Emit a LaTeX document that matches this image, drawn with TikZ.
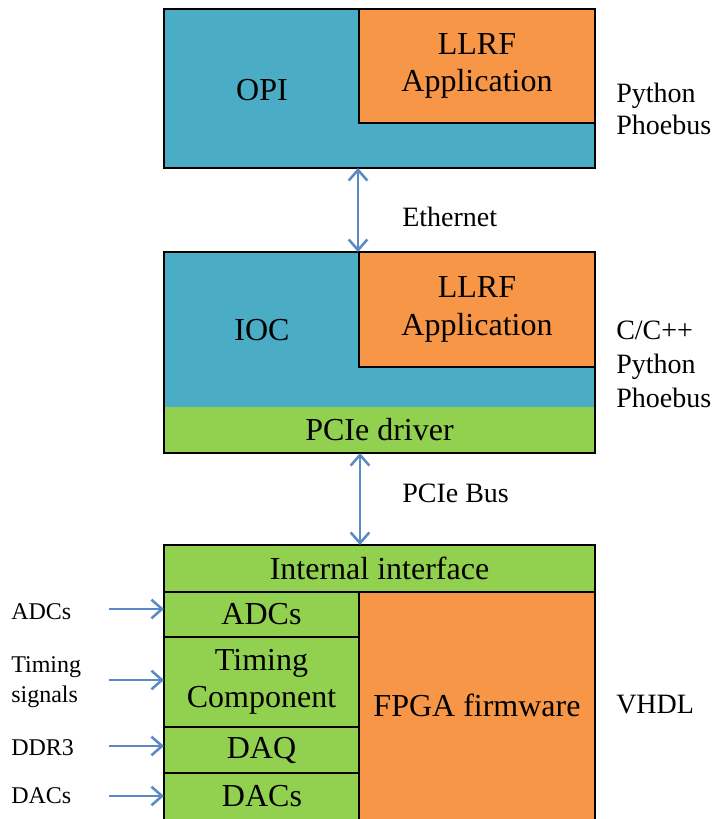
\documentclass[tikz,border=0pt]{standalone}
\usepackage{fontspec}
\setmainfont{Liberation Serif}
\usetikzlibrary{fit,arrows.meta}
\definecolor{tealfill}{HTML}{4BACC6}
\definecolor{orangefill}{HTML}{F79646}
\definecolor{greenfill}{HTML}{92D050}
\definecolor{linkblue}{HTML}{5A8AC6}
\newcommand\boxfont{\fontsize{24}{28}\selectfont}
\newcommand\sidefont{\fontsize{21}{25}\selectfont}
\newcommand\infont{\fontsize{18}{22.5}\selectfont}
\begin{document}
\begin{tikzpicture}[x=0.75pt,y=-0.75pt,
  area/.style={inner sep=0pt, outer sep=0pt, line width=0.9pt},
  boxed/.style={area, draw=black},
  boxtext/.style={font=\boxfont, align=center, inner sep=0pt},
  sidetext/.style={font=\sidefont, align=left, anchor=west, inner sep=0pt},
  intext/.style={font=\infont, align=left, anchor=west, inner sep=0pt},
  tip/.style={Straight Barb[length=8pt,width=14pt,line width=1.6pt]},
  link/.style={draw=linkblue, line width=1.9pt, {Straight Barb[length=8pt,width=14pt]}-{Straight Barb[length=8pt,width=14pt]}},
  feed/.style={draw=linkblue, line width=1.9pt, -{Straight Barb[length=8pt,width=14pt]}}]
\useasboundingbox (0,0) rectangle (718,819);

% operator interface
\node[boxed, fill=tealfill, fit={(164,9)(595,168)}] (opi) {};
\node[boxed, fill=orangefill, fit={(359,9)(595,123)}] (opiapp) {};
\node[boxtext] (opiapptext) at (opiapp.center) {LLRF\\Application};
\node[boxtext] (opitext) at (262,90) {OPI};
\node[sidetext, font=\fontsize{21}{24}\selectfont] (opilang) at (616,109) {Python\\Phoebus};

% IOC
\node[area, fill=tealfill, fit={(164,252)(595,407)}] (iocbg) {};
\node[area, fill=greenfill, fit={(164,407)(595,453)}] (driver) {};
\node[boxtext] (drivertext) at (driver.center) {PCIe driver};
\node[boxed, fit={(164,252)(595,453)}] (ioc) {};
\node[boxed, fill=orangefill, fit={(359,252)(595,367)}] (iocapp) {};
\node[boxtext] (iocapptext) at (iocapp.center) {LLRF\\Application};
\node[boxtext] (ioctext) at (262,330) {IOC};
\node[sidetext, font=\fontsize{21}{25.5}\selectfont] (ioclang) at (616,364) {C/C++\\Python\\Phoebus};

% FPGA firmware
\node[boxed, fill=greenfill, fit={(164,545)(595,592)}] (intf) {};
\node[boxtext] (intftext) at (intf.center) {Internal interface};
\node[boxed, fill=greenfill, fit={(164,592)(359,637)}] (adcs) {};
\node[boxtext] (adcstext) at (adcs.center) {ADCs};
\node[boxed, fill=greenfill, fit={(164,637)(359,727)}] (timing) {};
\node[boxtext] (timingtext) at (timing.center) {Timing\\Component};
\node[boxed, fill=greenfill, fit={(164,727)(359,773)}] (daq) {};
\node[boxtext] (daqtext) at (daq.center) {DAQ};
\node[boxed, fill=greenfill, fit={(164,773)(359,822)}] (dacs) {};
\node[boxtext] (dacstext) at (262,796) {DACs};
\node[boxed, fill=orangefill, fit={(359,592)(595,822)}] (fpga) {};
\node[boxtext] (fpgatext) at (477,705) {FPGA firmware};
\node[sidetext] (vhdl) at (616,705) {VHDL};

% links between the layers
\coordinate (ethtop) at (358,168);
\coordinate (ethbot) at (358,252);
\draw[link] (ethtop) -- (ethbot);
\node[sidetext] (eth) at (402,217) {Ethernet};
\coordinate (pcietop) at (360,453);
\coordinate (pciebot) at (360,545);
\draw[link] (pcietop) -- (pciebot);
\node[sidetext] (pcie) at (402,493) {PCIe Bus};

% external inputs
\node[intext] (inadc) at (11,612) {ADCs};
\node[intext, font=\fontsize{18}{22}\selectfont] (intiming) at (11,682) {Timing\\signals};
\node[intext] (inddr) at (11,748) {DDR3};
\node[intext] (indac) at (11,796) {DACs};
\coordinate (sadc) at (109,609);
\coordinate (stiming) at (109,680);
\coordinate (sddr) at (109,746);
\coordinate (sdac) at (109,796);
\draw[feed] (sadc) -- (adcs.west |- sadc);
\draw[feed] (stiming) -- (timing.west |- stiming);
\draw[feed] (sddr) -- (daq.west |- sddr);
\draw[feed] (sdac) -- (dacs.west |- sdac);
\end{tikzpicture}
\end{document}
